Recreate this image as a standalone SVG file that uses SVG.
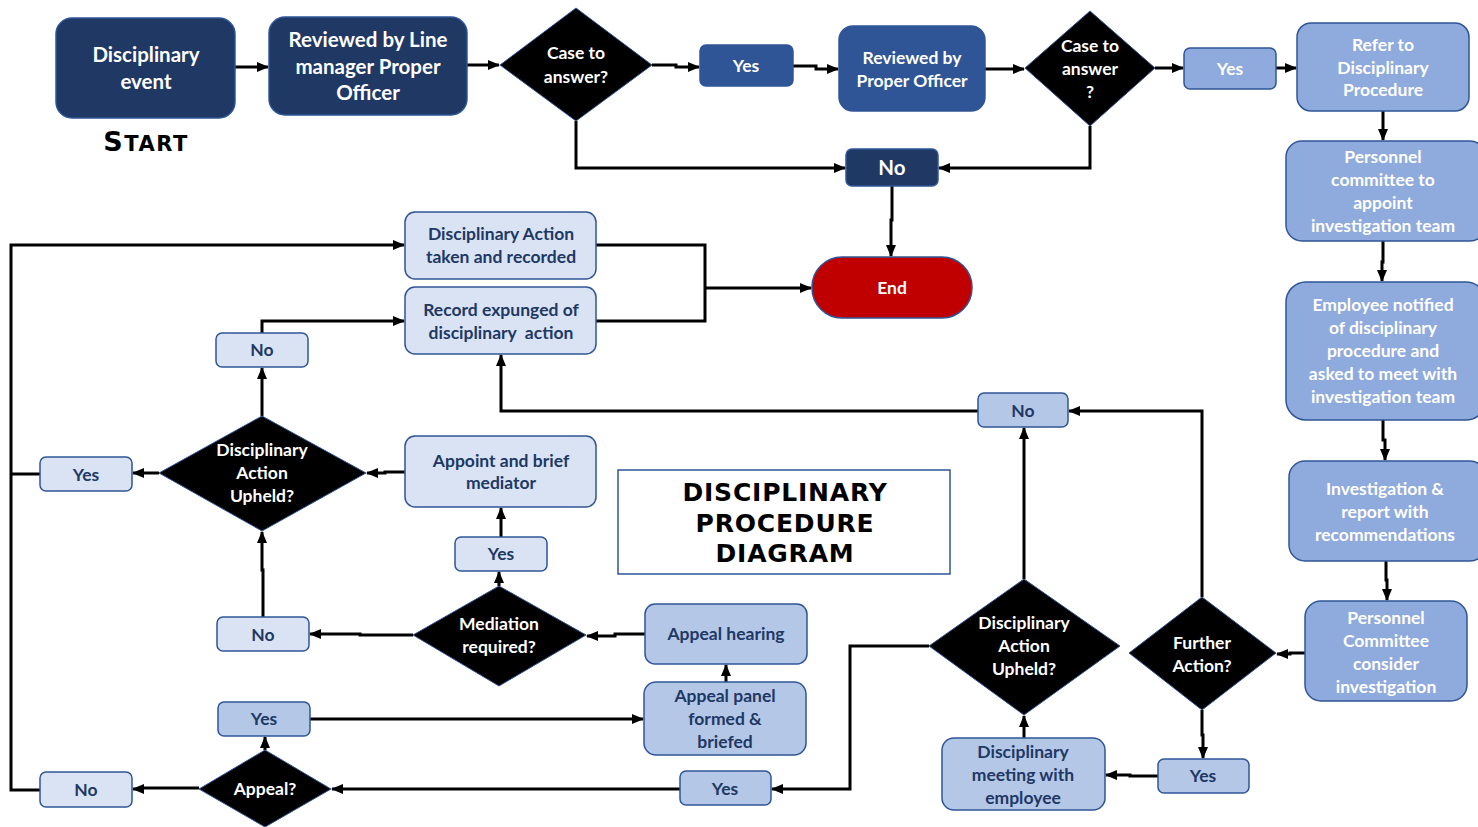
<svg xmlns="http://www.w3.org/2000/svg" width="1478" height="827" viewBox="0 0 1478 827">
<defs>
<marker id="ah" markerWidth="12" markerHeight="10" refX="11" refY="5" orient="auto" markerUnits="userSpaceOnUse">
<path d="M0,0 L12,5 L0,10 Z" fill="#000"/>
</marker>
<style>
.t{font-family:Lato,"Open Sans","Liberation Sans",sans-serif;font-weight:bold;text-anchor:middle}
.w{fill:#fff}
.n{fill:#203864}
.dk{fill:#203864;stroke:#2F5597;stroke-width:1.5}
.md{fill:#2F5597;stroke:#2F5597;stroke-width:1.5}
.lb{fill:#8FAADC;stroke:#2F5597;stroke-width:1.5}
.pb{fill:#B4C7E7;stroke:#2F5597;stroke-width:1.5}
.xb{fill:#DAE3F3;stroke:#2F5597;stroke-width:1.5}
.dia{fill:#000;stroke:#2F5597;stroke-width:1}
.c path{fill:none;stroke:#000;stroke-width:3}
.a{marker-end:url(#ah)}
</style>
</defs>
<rect width="1478" height="827" fill="#fff"/>

<g class="c">
<path class="a" d="M235,67 H268"/>
<path class="a" d="M467,65 H499"/>
<path class="a" d="M652,65 H676 V67 H699"/>
<path class="a" d="M793,66 H816 V69 H838"/>
<path class="a" d="M985,69 H1024"/>
<path class="a" d="M1155,68 H1183"/>
<path class="a" d="M1276,68 H1296"/>
<path class="a" d="M576,121 V168 H845"/>
<path class="a" d="M1090,126 V168 H939"/>
<path class="a" d="M892,186 V220 H891 V256"/>
<path class="a" d="M1383,111 V140"/>
<path class="a" d="M1383,241 V262 H1382 V281"/>
<path class="a" d="M1383,420 V440 H1385 V460"/>
<path class="a" d="M1386,561 V580 H1387 V600"/>
<path class="a" d="M1305,653 H1290 V654 H1277"/>
<path class="a" d="M1202,597 V411 H1069"/>
<path class="a" d="M1202,710 V735 H1203 V758"/>
<path class="a" d="M1158,776 H1130 V775 H1106"/>
<path class="a" d="M1024,738 V716"/>
<path class="a" d="M1024,579 V428"/>
<path class="a" d="M978,411 H501 V355"/>
<path class="a" d="M929,646 H850 V789 H772"/>
<path class="a" d="M680,789 H332"/>
<path class="a" d="M199,788 H140 V789 H133"/>
<path class="a" d="M40,790 H11 V245 H404"/>
<path d="M40,474 H11"/>
<path class="a" d="M265,750 V737"/>
<path class="a" d="M310,719 H643"/>
<path class="a" d="M726,682 V665"/>
<path class="a" d="M645,634 H615 V636 H587"/>
<path class="a" d="M413,635 H360 V634 H310"/>
<path class="a" d="M263,617 V570 H262 V532"/>
<path class="a" d="M499,586 V572"/>
<path class="a" d="M501,537 V508"/>
<path class="a" d="M405,472 H385 V473 H367"/>
<path class="a" d="M159,473 H133"/>
<path class="a" d="M262,416 V368"/>
<path class="a" d="M262,333 V321 H404"/>
<path d="M596,245 H705 V321 H596"/>
<path class="a" d="M705,288 H811"/>
</g>

<g id="disciplinary-event"><rect class="dk" x="56" y="18" width="179" height="100" rx="16"/>
<text class="t w" font-size="20.5"><tspan x="146" y="62">Disciplinary</tspan><tspan x="146" y="89">event</tspan></text></g>
<text x="146" y="151" font-family="'DejaVu Sans','Liberation Sans',sans-serif" font-weight="bold" text-anchor="middle" fill="#000" letter-spacing="1.5"><tspan font-size="27">S</tspan><tspan font-size="21">TART</tspan></text>

<g id="reviewed-line-manager"><rect class="dk" x="269" y="17" width="198" height="98" rx="16"/>
<text class="t w" font-size="20.5"><tspan x="368" y="47">Reviewed by Line</tspan><tspan x="368" y="74">manager Proper</tspan><tspan x="368" y="100">Officer</tspan></text></g>

<g id="case1"><polygon class="dia" points="576,8 652,65 576,121 500,65"/>
<text class="t w" font-size="17.5"><tspan x="576" y="59">Case to</tspan><tspan x="576" y="83">answer?</tspan></text></g>

<g id="yes1"><rect class="md" x="700" y="45" width="93" height="41" rx="6"/>
<text class="t w" font-size="17.5" x="746" y="72">Yes</text></g>

<g id="reviewed-proper-officer"><rect class="md" x="839" y="26" width="146" height="85" rx="14"/>
<text class="t w" font-size="17.5"><tspan x="912" y="64">Reviewed by</tspan><tspan x="912" y="87">Proper Officer</tspan></text></g>

<g id="case2"><polygon class="dia" points="1090,11 1155,68 1090,126 1025,68"/>
<text class="t w" font-size="17.5"><tspan x="1090" y="52">Case to</tspan><tspan x="1090" y="75">answer</tspan><tspan x="1090" y="98">?</tspan></text></g>

<g id="yes2"><rect class="lb" x="1184" y="48" width="92" height="41" rx="6"/>
<text class="t w" font-size="17.5" x="1230" y="75">Yes</text></g>

<g id="refer"><rect class="lb" x="1297" y="23" width="172" height="88" rx="14"/>
<text class="t w" font-size="17.5"><tspan x="1383" y="51">Refer to</tspan><tspan x="1383" y="74">Disciplinary</tspan><tspan x="1383" y="96">Procedure</tspan></text></g>

<g id="personnel-appoint"><rect class="lb" x="1286" y="141" width="200" height="100" rx="16"/>
<text class="t w" font-size="17.5"><tspan x="1383" y="163">Personnel</tspan><tspan x="1383" y="186">committee to</tspan><tspan x="1383" y="209">appoint</tspan><tspan x="1383" y="232">investigation team</tspan></text></g>

<g id="employee-notified"><rect class="lb" x="1286" y="282" width="200" height="138" rx="20"/>
<text class="t w" font-size="17.5"><tspan x="1383" y="311">Employee notified</tspan><tspan x="1383" y="334">of disciplinary</tspan><tspan x="1383" y="357">procedure and</tspan><tspan x="1383" y="380">asked to meet with</tspan><tspan x="1383" y="403">investigation team</tspan></text></g>

<g id="investigation"><rect class="lb" x="1289" y="461" width="197" height="100" rx="16"/>
<text class="t w" font-size="17.5"><tspan x="1385" y="495">Investigation &amp;</tspan><tspan x="1385" y="518">report with</tspan><tspan x="1385" y="541">recommendations</tspan></text></g>

<g id="personnel-consider"><rect class="lb" x="1305" y="601" width="162" height="100" rx="16"/>
<text class="t w" font-size="17.5"><tspan x="1386" y="624">Personnel</tspan><tspan x="1386" y="647">Committee</tspan><tspan x="1386" y="670">consider</tspan><tspan x="1386" y="693">investigation</tspan></text></g>

<g id="no-top"><rect class="dk" x="846" y="149" width="92" height="37" rx="6"/>
<text class="t w" font-size="20.5" x="892" y="175">No</text></g>

<g id="end"><rect x="812" y="257" width="160" height="61" rx="30" fill="#C00000" stroke="#2F5597" stroke-width="1.5"/>
<text class="t w" font-size="17.5" x="892" y="294">End</text></g>

<g id="action-taken"><rect class="xb" x="405" y="212" width="191" height="67" rx="10"/>
<text class="t n" font-size="17.5"><tspan x="501" y="240">Disciplinary Action</tspan><tspan x="501" y="263">taken and recorded</tspan></text></g>

<g id="record-expunged"><rect class="xb" x="405" y="287" width="191" height="67" rx="10"/>
<text class="t n" font-size="17.5"><tspan x="501" y="316">Record expunged of</tspan><tspan x="501" y="339" xml:space="preserve">disciplinary  action</tspan></text></g>

<g id="no-upheld-left"><rect class="xb" x="216" y="333" width="92" height="34" rx="6"/>
<text class="t n" font-size="17.5" x="262" y="356">No</text></g>

<g id="upheld-left"><polygon class="dia" points="262,416 366,473 262,531 159,473"/>
<text class="t w" font-size="17.5"><tspan x="262" y="456">Disciplinary</tspan><tspan x="262" y="479">Action</tspan><tspan x="262" y="502">Upheld?</tspan></text></g>

<g id="yes-upheld-left"><rect class="xb" x="40" y="457" width="92" height="34" rx="6"/>
<text class="t n" font-size="17.5" x="86" y="481">Yes</text></g>

<g id="appoint-mediator"><rect class="xb" x="405" y="436" width="191" height="71" rx="10"/>
<text class="t n" font-size="17.5"><tspan x="501" y="467">Appoint and brief</tspan><tspan x="501" y="489">mediator</tspan></text></g>

<g id="yes-mediation"><rect class="xb" x="455" y="537" width="92" height="34" rx="6"/>
<text class="t n" font-size="17.5" x="501" y="560">Yes</text></g>

<g id="mediation"><polygon class="dia" points="499,586 586,635 499,686 413,635"/>
<text class="t w" font-size="17.5"><tspan x="499" y="630">Mediation</tspan><tspan x="499" y="653">required?</tspan></text></g>

<g id="no-mediation"><rect class="xb" x="217" y="617" width="92" height="34" rx="6"/>
<text class="t n" font-size="17.5" x="263" y="641">No</text></g>

<g id="appeal-hearing"><rect class="pb" x="645" y="604" width="162" height="60" rx="10"/>
<text class="t n" font-size="17.5" x="726" y="640">Appeal hearing</text></g>

<g id="appeal-panel"><rect class="pb" x="644" y="682" width="162" height="73" rx="12"/>
<text class="t n" font-size="17.5"><tspan x="725" y="702">Appeal panel</tspan><tspan x="725" y="725">formed &amp;</tspan><tspan x="725" y="748">briefed</tspan></text></g>

<g id="yes-appeal"><rect class="pb" x="218" y="702" width="92" height="34" rx="6"/>
<text class="t n" font-size="17.5" x="264" y="725">Yes</text></g>

<g id="appeal"><polygon class="dia" points="265,750 331,789 265,827 199,789"/>
<text class="t w" font-size="17.5" x="265" y="795">Appeal?</text></g>

<g id="no-appeal"><rect class="xb" x="40" y="772" width="92" height="35" rx="6"/>
<text class="t n" font-size="17.5" x="86" y="796">No</text></g>

<g id="yes-upheld-right"><rect class="pb" x="680" y="771" width="91" height="34" rx="6"/>
<text class="t n" font-size="17.5" x="725" y="795">Yes</text></g>

<g id="upheld-right"><polygon class="dia" points="1024,579 1120,646 1024,715 929,646"/>
<text class="t w" font-size="17.5"><tspan x="1024" y="629">Disciplinary</tspan><tspan x="1024" y="652">Action</tspan><tspan x="1024" y="675">Upheld?</tspan></text></g>

<g id="no-further"><rect class="pb" x="978" y="393" width="90" height="34" rx="6"/>
<text class="t n" font-size="17.5" x="1023" y="417">No</text></g>

<g id="disciplinary-meeting"><rect class="pb" x="942" y="738" width="163" height="72" rx="12"/>
<text class="t n" font-size="17.5"><tspan x="1023" y="758">Disciplinary</tspan><tspan x="1023" y="781">meeting with</tspan><tspan x="1023" y="804">employee</tspan></text></g>

<g id="further-action"><polygon class="dia" points="1202,597 1276,653 1202,710 1129,653"/>
<text class="t w" font-size="17.5"><tspan x="1202" y="649">Further</tspan><tspan x="1202" y="672">Action?</tspan></text></g>

<g id="yes-further"><rect class="pb" x="1158" y="759" width="91" height="34" rx="6"/>
<text class="t n" font-size="17.5" x="1203" y="782">Yes</text></g>

<g id="title"><rect x="618" y="470" width="332" height="104" fill="#fff" stroke="#2F5597" stroke-width="1.5"/>
<text font-family="'DejaVu Sans','Liberation Sans',sans-serif" font-weight="bold" font-size="25" text-anchor="middle" fill="#000" letter-spacing="0.8"><tspan x="785" y="501">DISCIPLINARY</tspan><tspan x="785" y="532">PROCEDURE</tspan><tspan x="785" y="562">DIAGRAM</tspan></text></g>
</svg>
